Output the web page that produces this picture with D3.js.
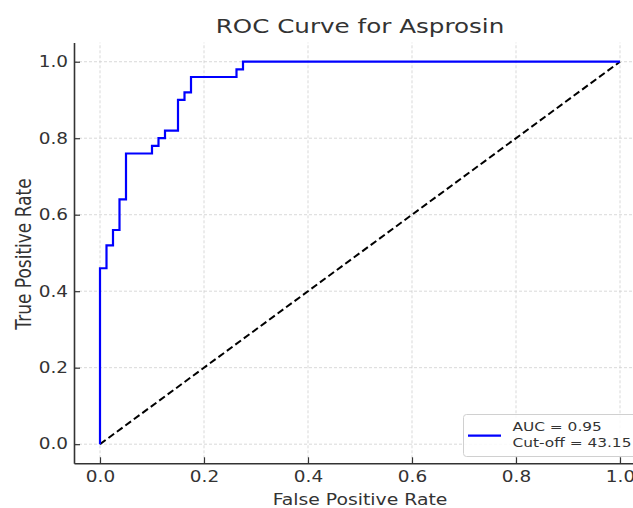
<!DOCTYPE html>
<html>
<head>
<meta charset="utf-8">
<script src="https://cdn.jsdelivr.net/npm/d3@7"></script>
<style>
  body { margin: 0; background: #fff; }
  text { font-family: "DejaVu Sans", sans-serif; fill: #333; }
</style>
</head>
<body>
<div class="chart"></div>
<script>
// ROC points (step curve)
const fpr = [0, 0, 0.0125, 0.0125, 0.025, 0.025, 0.0375, 0.0375, 0.05, 0.05, 0.1, 0.1,
    0.1125, 0.1125, 0.125, 0.125, 0.15, 0.15, 0.1625, 0.1625, 0.175, 0.175,
    0.2625, 0.2625, 0.275, 0.275, 1.0];
const tpr = [0, 0.46, 0.46, 0.52, 0.52, 0.56, 0.56, 0.64, 0.64, 0.76, 0.76, 0.78,
    0.78, 0.80, 0.80, 0.82, 0.82, 0.90, 0.90, 0.92, 0.92, 0.96,
    0.96, 0.98, 0.98, 1.0, 1.0];
const chance = [0, 1];
const ticks = [0, 0.2, 0.4, 0.6, 0.8, 1.0];
const legendLines = ['AUC = 0.95', 'Cut-off = 43.15'];

const W = 633, H = 508;
// picture is a bit stretched sideways, so text is too
const sx = 1.23;

const x = d3.scaleLinear([-0.05, 1.05], [74, 646]);
const y = d3.scaleLinear([-0.05, 1.05], [463.3, 42.6]);

const svg = d3.select('.chart')
    .append('svg')
    .attr('width', W)
    .attr('height', H);

// grid
svg.append('g')
    .selectAll('line')
    .data(ticks)
    .join('line')
    .attr('x1', d => x(d)).attr('x2', d => x(d))
    .attr('y1', y.range()[0]).attr('y2', y.range()[1])
    .attr('stroke', '#cfcfcf').attr('stroke-width', 0.8)
    .attr('stroke-dasharray', '3,2');

svg.append('g')
    .selectAll('line')
    .data(ticks)
    .join('line')
    .attr('y1', d => y(d)).attr('y2', d => y(d))
    .attr('x1', x.range()[0]).attr('x2', x.range()[1])
    .attr('stroke', '#cfcfcf').attr('stroke-width', 0.8)
    .attr('stroke-dasharray', '3,2');

// axes
const xAxis = svg.append('g')
    .attr('transform', `translate(0, ${y.range()[0]})`)
    .call(d3.axisBottom(x).tickValues(ticks).tickFormat(d3.format('.1f'))
        .tickSizeInner(-6).tickSizeOuter(0).tickPadding(7.7));

const yAxis = svg.append('g')
    .attr('transform', `translate(${x.range()[0]}, 0)`)
    .call(d3.axisLeft(y).tickValues(ticks).tickFormat(d3.format('.1f'))
        .tickSizeInner(-6).tickSizeOuter(0).tickPadding(4.9));

[xAxis, yAxis].forEach(g => {
    g.select('.domain').attr('stroke', '#333').attr('stroke-width', 1.6);
    g.selectAll('.tick line').attr('stroke', '#333').attr('stroke-width', 1.2);
    g.selectAll('.tick text')
        .attr('fill', '#333')
        .style('font-size', '15px')
        .style('font-family', '"DejaVu Sans", sans-serif')
        .attr('transform', `scale(${sx},1)`);
});
yAxis.selectAll('.tick text').attr('x', -4.9);

// chance line
svg.append('line')
    .attr('x1', x(chance[0])).attr('y1', y(chance[0]))
    .attr('x2', x(chance[1])).attr('y2', y(chance[1]))
    .attr('stroke', '#000').attr('stroke-width', 2)
    .attr('stroke-dasharray', '7,3.5');

// roc curve
const line = d3.line()
    .x(d => x(d[0]))
    .y(d => y(d[1]));

svg.append('path')
    .datum(d3.zip(fpr, tpr))
    .attr('d', line)
    .attr('fill', 'none')
    .attr('stroke', '#0000ff')
    .attr('stroke-width', 2.2);

// labels
function label(txt, px, py, size, extra) {
    return svg.append('text')
        .attr('transform', `translate(${px}, ${py}) scale(${sx},1)` + (extra || ''))
        .attr('text-anchor', 'middle')
        .style('font-size', size + 'px')
        .text(txt);
}
label('ROC Curve for Asprosin', 360, 33, 20);
label('False Positive Rate', 360, 505, 15.3);
label('True Positive Rate', 31, 254, 17, ' rotate(-90)');

// legend
const leg = svg.append('g');
leg.append('rect')
    .attr('x', 463.5).attr('y', 414.5)
    .attr('width', 180).attr('height', 42)
    .attr('rx', 3)
    .attr('fill', '#fff').attr('fill-opacity', 0.85)
    .attr('stroke', '#d0d0d0');
leg.append('line')
    .attr('x1', 468).attr('x2', 501)
    .attr('y1', 435.7).attr('y2', 435.7)
    .attr('stroke', '#0000ff').attr('stroke-width', 2.2);
leg.selectAll('text')
    .data(legendLines)
    .join('text')
    .attr('transform', (d, i) => `translate(512.5, ${431 + i * 16}) scale(${sx},1)`)
    .style('font-size', '12.5px')
    .text(d => d);
</script>
</body>
</html>
